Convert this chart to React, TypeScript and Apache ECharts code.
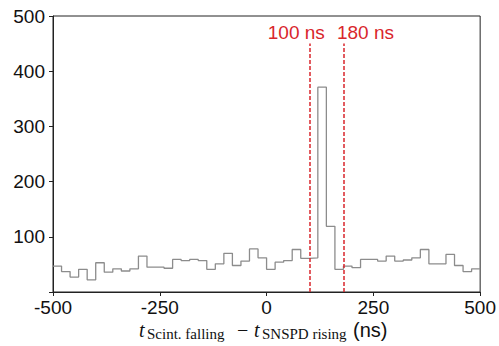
import React, { useEffect, useRef } from "react";
import * as echarts from "echarts";

const BIN_START = -500;
const BIN_WIDTH = 20;
const counts = [
  47, 37, 27, 41, 22, 53, 36, 42, 38, 42,
  65, 45, 45, 43, 59, 57, 59, 57, 41, 51,
  70, 48, 56, 78, 62, 41, 54, 57, 77, 61,
  62, 371, 119, 41, 47, 44, 59, 59, 56, 65,
  56, 58, 62, 77, 51, 51, 68, 48, 37, 42,
];
const xTicks = [-500, -250, 0, 250, 500];
const yTicks = [0, 100, 200, 300, 400, 500];
const cutLines = [100, 180];
const cutLabels = ["100 ns", "180 ns"];
const cutTop = 450;

export default function App() {
  const ref = useRef<HTMLDivElement>(null);
  useEffect(() => {
    if (!ref.current) return;
    const chart = echarts.init(ref.current, null, { renderer: "svg" });
    const pts: number[][] = counts.map((c, i) => [BIN_START + i * BIN_WIDTH, c]);
    pts.push([BIN_START + counts.length * BIN_WIDTH, counts[counts.length - 1]]);
    const sans = "'Liberation Sans', Arial, Helvetica, sans-serif";
    const serif = "'Liberation Serif', 'Times New Roman', serif";
    const labelOffsets = [[-13, 3], [22, 3]];
    chart.setOption({
      animation: false,
      grid: {
        left: 53, right: 18, top: 16, bottom: 54,
        show: true, borderColor: "#222", borderWidth: 1, backgroundColor: "transparent",
      },
      xAxis: {
        type: "value",
        min: xTicks[0], max: xTicks[xTicks.length - 1], interval: 250,
        axisLine: { show: true, onZero: false, lineStyle: { color: "#222", width: 1 } },
        axisTick: { show: true, inside: false, length: 4, lineStyle: { color: "#222" } },
        axisLabel: { color: "#111", fontSize: 19, fontFamily: sans, margin: 6 },
        splitLine: { show: false },
      },
      yAxis: {
        type: "value",
        min: yTicks[0], max: yTicks[yTicks.length - 1], interval: 100,
        axisLine: { show: true, onZero: false, lineStyle: { color: "#222", width: 1 } },
        axisTick: { show: true, inside: false, length: 4, lineStyle: { color: "#222" } },
        axisLabel: {
          color: "#111", fontSize: 19, fontFamily: sans, margin: 8,
          formatter: (v: number) => (v === 0 ? "" : String(v)),
        },
        splitLine: { show: false },
      },
      series: [
        {
          type: "line",
          step: "end",
          data: pts,
          symbol: "none",
          lineStyle: { color: "#8c8c8c", width: 1.3 },
          markLine: {
            silent: true,
            symbol: "none",
            lineStyle: { color: "#d9262c", type: [4, 2], width: 1.5 },
            data: cutLines.map((x, i) => [
              { coord: [x, 0] },
              {
                coord: [x, cutTop],
                label: {
                  show: true,
                  position: "end",
                  formatter: cutLabels[i],
                  color: "#d9262c",
                  fontSize: 19,
                  fontFamily: sans,
                  offset: labelOffsets[i],
                },
              },
            ]),
          },
        },
      ],
      graphic: [
        { type: "text", left: 139, top: 320, style: { text: "t", font: `italic 20px ${serif}`, fill: "#111" } },
        { type: "text", left: 147, top: 326, style: { text: "Scint. falling", font: `15px ${serif}`, fill: "#111" } },
        { type: "text", left: 237, top: 320, style: { text: "\u2212", font: `20px ${serif}`, fill: "#111" } },
        { type: "text", left: 254, top: 320, style: { text: "t", font: `italic 20px ${serif}`, fill: "#111" } },
        { type: "text", left: 262, top: 326, style: { text: "SNSPD rising", font: `15px ${serif}`, fill: "#111" } },
        { type: "text", left: 353, top: 320, style: { text: "(ns)", font: `20px ${sans}`, fill: "#111" } },
      ],
    });
    return () => chart.dispose();
  }, []);
  return (
    <div
      ref={ref}
      style={{ position: "fixed", left: 0, top: 0, width: 499, height: 346, background: "#fff" }}
    />
  );
}
